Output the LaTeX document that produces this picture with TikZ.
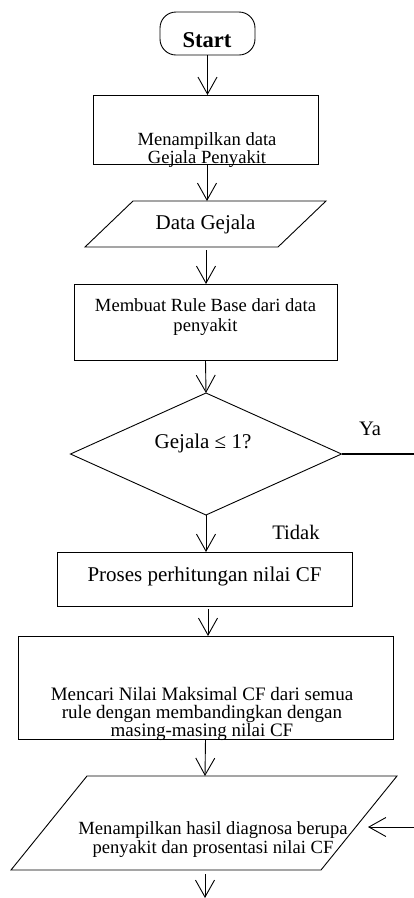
\documentclass[tikz,border=0pt]{standalone}
\usepackage{fontspec}
\setmainfont{Liberation Serif}
\usetikzlibrary{arrows.meta,shapes.geometric}

\begin{document}
\begin{tikzpicture}[x=1pt,y=-1pt,line width=0.9pt,
  shapebox/.style={draw,rectangle,inner sep=0pt,outer sep=0pt},
  flow/.style={-{Straight Barb[length=17pt,width=19pt,line width=0.9pt]}},
  txt/.style={inner sep=0pt,align=center,font=\fontsize{18.6}{19}\selectfont},
  bigtxt/.style={inner sep=0pt,align=center,font=\fontsize{21}{24}\selectfont}]
\useasboundingbox (0,0) rectangle (414,898);

% terminator
\node[draw,rounded corners=16pt,minimum width=95pt,minimum height=43pt,inner sep=0pt,outer sep=0pt] (start) at (207.5,33.5) {};
\node[anchor=base,inner sep=0pt,font=\bfseries\fontsize{22.6}{26}\selectfont] (tstart) at (207,47) {Start};

% process: show symptom data
\node[shapebox,minimum width=225pt,minimum height=69pt] (box1) at (205.5,129.5) {};
\node[txt,font=\fontsize{18.6}{15}\selectfont] (tbox1) at (207,150) {Menampilkan data\\Gejala Penyakit};

% input: symptom data
\draw (133,201) coordinate (p1tl) -- (326,201) coordinate (p1tr) -- (278,247) coordinate (p1br) -- (85,247) coordinate (p1bl) -- cycle;
\coordinate (p1top) at (207,201);
\coordinate (p1bot) at (206,247);
\node[bigtxt] (tpara1) at (205.5,224) {Data Gejala};

% process: build rule base
\node[shapebox,minimum width=263pt,minimum height=76pt] (box2) at (205.5,322) {};
\node[txt,font=\fontsize{18.6}{20}\selectfont] (tbox2) at (205.5,317) {Membuat Rule Base dari data\\penyakit};

% decision
\node[draw,diamond,minimum width=271pt,minimum height=122pt,inner sep=0pt,outer sep=0pt] (dec) at (206,454) {};
\node[bigtxt] (tdec) at (203,443) {Gejala ≤ 1?};
\node[bigtxt,font=\fontsize{20.6}{24}\selectfont] (tya) at (370,429) {Ya};
\node[bigtxt,font=\fontsize{20.6}{24}\selectfont] (ttidak) at (296,532) {Tidak};

% process: CF computation
\node[shapebox,minimum width=295pt,minimum height=54pt] (box3) at (204.5,579) {};
\node[bigtxt] (tbox3) at (204.5,576) {Proses perhitungan nilai CF};

% process: maximum CF
\node[shapebox,minimum width=375pt,minimum height=103pt] (box4) at (205.5,687.5) {};
\node[txt,font=\fontsize{19}{18}\selectfont] (tbox4) at (202,714) {Mencari Nilai Maksimal CF dari semua\\rule dengan membandingkan dengan\\masing-masing nilai CF};

% output: diagnosis
\draw (87,776) coordinate (p2tl) -- (397,776) coordinate (p2tr) -- (321,870) coordinate (p2br) -- (11,870) coordinate (p2bl) -- cycle;
\coordinate (p2top) at (205,776);
\coordinate (p2bot) at (205,870);
\coordinate (p2in) at (368,827);
\node[txt,font=\fontsize{18.6}{19}\selectfont] (tpara2) at (213,840) {Menampilkan hasil diagnosa berupa\\penyakit dan prosentasi nilai CF};

% free ends of connectors
\coordinate (yaturn) at (416,454);
\coordinate (yadown) at (416,827);
\coordinate (fin) at (205,898);

% connectors
\draw[flow] (start.south) -- (start.south |- box1.north);
\draw[flow] ([xshift=1.5pt]box1.south) -- (p1top);
\draw[flow] ([yshift=-3pt]p1bot) -- (p1bot |- box2.north);
\draw[flow] (box2.south) -- (dec.north);
\draw[flow] (dec.south) -- (dec.south |- box3.north);
\draw[flow] ([xshift=3.5pt,yshift=-3pt]box3.south) -- ([xshift=3.5pt]box3.south |- box4.north);
\draw[flow] (box4.south) -- (p2top);
\draw[flow] ([yshift=-4pt]p2bot) -- (fin);
\draw[line width=1.5pt] (dec.east) -- (yaturn) -- (yadown);
\draw[flow] (yadown) -- (p2in);
\end{tikzpicture}
\end{document}
